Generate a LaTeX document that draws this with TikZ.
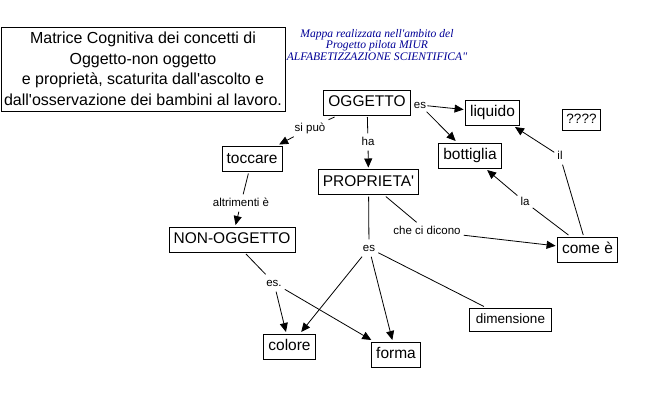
\documentclass[tikz,border=0pt]{standalone}
\usepackage{fontspec}
\newfontfamily\arialfont{Liberation Sans}
\newfontfamily\timesfont{Liberation Serif}
\usetikzlibrary{arrows.meta}
\definecolor{mapblue}{RGB}{0,0,150}
\tikzset{
  conbox/.style={draw, line width=0.8pt, inner xsep=4.5pt, inner ysep=5pt,
    text height=11.5pt, text depth=3.5pt, outer sep=2pt,
    font=\arialfont\fontsize{15.5}{18}\selectfont},
  smallbox/.style={draw, line width=0.8pt, inner xsep=6.5pt, inner ysep=5pt,
    text height=10pt, text depth=3pt, outer sep=2pt,
    font=\arialfont\fontsize{13.5}{16}\selectfont},
  lab/.style={inner sep=3pt, text height=8.5pt, text depth=2.5pt,
    font=\arialfont\fontsize{11.5}{14}\selectfont},
  link/.style={line width=0.8pt},
  arr/.style={line width=0.8pt, -{Triangle[length=9pt,width=8pt]}}
}
\begin{document}
\begin{tikzpicture}[x=1pt,y=-1pt]
\useasboundingbox (0,0) rectangle (659,408);
% blue header
\node[text=mapblue, align=center, inner sep=0pt,
  font=\timesfont\itshape\fontsize{11.6}{11.8}\selectfont] (header) at (377,45)
  {Mappa realizzata nell'ambito del\\Progetto pilota MIUR\\ALFABETIZZAZIONE SCIENTIFICA"};
% title
\node[draw, fill=white, line width=0.8pt, minimum width=284pt, minimum height=84pt,
  inner sep=0pt, align=center,
  font=\arialfont\fontsize{16}{20.5}\selectfont] (title) at (143,69)
  {Matrice Cognitiva dei concetti di\\Oggetto-non oggetto\\e proprietà, scaturita dall'ascolto e\\dall'osservazione dei bambini al lavoro.};
% concept boxes
\node[conbox] (oggetto) at (367,102.5) {OGGETTO};
\node[conbox] (toccare) at (252,159) {toccare};
\node[conbox] (proprieta) at (368.5,182) {PROPRIETA'};
\node[conbox] (nonogg) at (232,239.5) {NON-OGGETTO};
\node[conbox] (liquido) at (492.5,112.5) {liquido};
\node[conbox] (bottiglia) at (470,155.5) {bottiglia};
\node[smallbox, inner xsep=4pt, inner ysep=4pt] (qqqq) at (581.5,119.5) {????};
\node[conbox] (come) at (587.5,249.5) {come è};
\node[conbox] (colore) at (289.5,346.5) {colore};
\node[conbox] (forma) at (396,354.5) {forma};
\node[smallbox] (dimensione) at (510.5,320) {dimensione};
% link labels
\node[lab] (sipuo) at (310,128) {si può};
\node[lab] (ha) at (368,142) {ha};
\node[lab, inner sep=1pt] (esa) at (420,105) {es};
\node[lab] (altrimenti) at (241,203) {altrimenti è};
\node[lab] (esb) at (369,248) {es};
\node[lab] (checi) at (427,231) {che ci dicono};
\node[lab] (esc) at (274,283) {es.};
\node[lab] (il) at (560,156) {il};
\node[lab] (la) at (525,202) {la};
% connectors
\draw[link] (oggetto) -- (sipuo);
\draw[arr] (sipuo) -- (toccare);
\draw[link] (oggetto) -- (ha);
\draw[arr] (ha) -- (proprieta);
\draw[arr] (esa) -- (liquido);
\draw[arr] (esa) -- (bottiglia);
\draw[link] (toccare) -- (altrimenti);
\draw[arr] (altrimenti) -- (nonogg);
\draw[link] (proprieta) -- (esb);
\draw[link] (proprieta) -- (checi);
\draw[arr] (checi) -- (come);
\draw[link] (come) -- (la);
\draw[arr] (la) -- (bottiglia);
\draw[link] (come) -- (il);
\draw[arr] (il) -- (liquido);
\draw[arr] (esb) -- (colore);
\draw[arr] (esb) -- (forma);
\draw[link] (esb) -- (dimensione);
\draw[link] (nonogg) -- (esc);
\draw[arr] (esc) -- (colore);
\draw[arr] (esc) -- (forma);
\end{tikzpicture}
\end{document}
